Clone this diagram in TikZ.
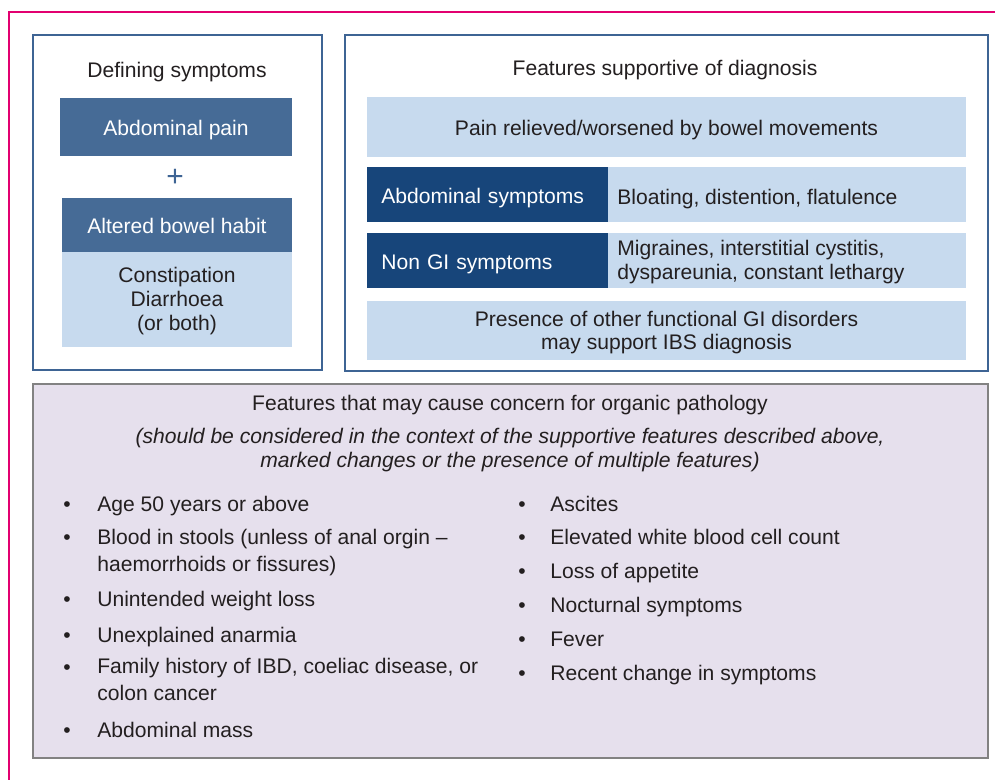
\documentclass[tikz,border=0pt]{standalone}
\usepackage{fontspec}
\setmainfont{Liberation Sans}
\usepackage{xcolor}
\usetikzlibrary{positioning}

\definecolor{inkdark}{RGB}{35,31,32}
\definecolor{frameblue}{RGB}{62,100,148}
\definecolor{midblue}{RGB}{70,107,150}
\definecolor{navy}{RGB}{23,69,122}
\definecolor{paleblue}{RGB}{199,218,238}
\definecolor{lavender}{RGB}{230,224,237}
\definecolor{framegray}{RGB}{130,130,130}
\definecolor{pagerule}{RGB}{226,0,112}

\begin{document}
\begin{tikzpicture}[
    x=0.02cm, y=-0.02cm,
    every node/.style={text=inkdark, font=\fontsize{12}{14.2}\selectfont},
    panel/.style={draw=frameblue, line width=1.6pt, fill=white},
    concern/.style={draw=framegray, line width=1.6pt, fill=lavender},
    lowtext/.style={text height=1em, text depth=0pt},
    midbox/.style={rectangle, fill=midblue, text=white, inner sep=0pt, lowtext},
    palebox/.style={rectangle, fill=paleblue, inner sep=0pt, lowtext},
    navybox/.style={rectangle, fill=navy, text=white, anchor=west, inner xsep=0.28cm,
        inner ysep=0pt, text width=4.26cm, align=left, minimum height=1.1cm, lowtext},
    plain/.style={inner sep=0pt, align=left, anchor=base west},
    heading/.style={inner sep=0pt, align=center, anchor=base},
    bullet/.style={inner sep=0pt, anchor=base},
    entry/.style={inner sep=0pt, align=left, anchor=base west, font=\fontsize{12}{15.4}\selectfont}
]
    \useasboundingbox (0,0) rectangle (995,780);

    % Page rule
    \draw[pagerule, line width=1.3pt] (9,780) -- (9,12) -- (995,12);

    % Panels
    \draw[panel] (33,35) rectangle (322,370);
    \draw[panel] (345,35) rectangle (988,371);
    \draw[concern] (33,384) rectangle (988,758);

    % Defining symptoms (multi-line texts sit on their last baseline)
    \node[heading] (deftitle) at (177,78) {Defining symptoms};
    \node[midbox, minimum width=4.64cm, minimum height=1.16cm] (pain) at (176,127) {Abdominal pain};
    \node[inner sep=0pt, text=frameblue, font=\fontsize{17}{20}\selectfont] (plus) at (175,178) {+};
    \node[midbox, minimum width=4.6cm, minimum height=1.08cm] (habit) at (177,225) {Altered bowel habit};
    \node[palebox, minimum width=4.6cm, minimum height=1.9cm] (types) at (177,299.5) {};
    \node[heading, font=\fontsize{12}{13.8}\selectfont] (typestext) at (177,331)
        {Constipation\\Diarrhoea\\(or both)};

    % Supportive features
    \node[heading] (suptitle) at (665,75.5) {Features supportive of diagnosis};
    \node[palebox, minimum width=11.98cm, minimum height=1.2cm] (relief) at (666.5,127)
        {Pain relieved/worsened by bowel movements};
    \node[palebox, minimum width=11.98cm, minimum height=1.1cm] (abdrow) at (666.5,194.5) {};
    \node[navybox] (abdhead) at (367,194.5) {Abdominal symptoms};
    \node[plain] (abdtext) at (617,204.5) {Bloating, distention, flatulence};
    \node[palebox, minimum width=11.98cm, minimum height=1.1cm] (girow) at (666.5,260.5) {};
    \node[navybox] (gihead) at (367,260.5) {Non GI symptoms};
    \node[plain] (gitext) at (617,280)
        {Migraines, interstitial cystitis,\\dyspareunia, constant lethargy};
    \node[palebox, minimum width=11.98cm, minimum height=1.18cm] (presence) at (666.5,330.5) {};
    \node[heading, font=\fontsize{12}{13.6}\selectfont] (presencetext) at (666.5,350)
        {Presence of other functional GI disorders\\may support IBS diagnosis};

    % Concern features
    \node[heading] (contitle) at (510,411) {Features that may cause concern for organic pathology};
    \node[heading, font=\fontsize{12}{14.2}\itshape] (connote) at (510,468)
        {(should be considered in the context of the supportive features described above,\\
         marked changes or the presence of multiple features)};

    \node[bullet] (bl1) at (67,512) {•};
    \node[entry] (age) at (97,512) {Age 50 years or above};
    \node[bullet] (bl2) at (67,545) {•};
    \node[entry] (blood) at (97,572) {Blood in stools (unless of anal orgin –\\haemorrhoids or fissures)};
    \node[bullet] (bl3) at (67,607) {•};
    \node[entry] (weight) at (97,607) {Unintended weight loss};
    \node[bullet] (bl4) at (67,643) {•};
    \node[entry] (anaemia) at (97,643) {Unexplained anarmia};
    \node[bullet] (bl5) at (67,675) {•};
    \node[entry] (family) at (97,701) {Family history of IBD, coeliac disease, or\\colon cancer};
    \node[bullet] (bl6) at (67,738) {•};
    \node[entry] (mass) at (97,738) {Abdominal mass};

    \node[bullet] (br1) at (522,512) {•};
    \node[entry] (ascites) at (550,512) {Ascites};
    \node[bullet] (br2) at (522,545) {•};
    \node[entry] (wbc) at (550,545) {Elevated white blood cell count};
    \node[bullet] (br3) at (522,579) {•};
    \node[entry] (appetite) at (550,579) {Loss of appetite};
    \node[bullet] (br4) at (522,613) {•};
    \node[entry] (nocturnal) at (550,613) {Nocturnal symptoms};
    \node[bullet] (br5) at (522,647) {•};
    \node[entry] (fever) at (550,647) {Fever};
    \node[bullet] (br6) at (522,681) {•};
    \node[entry] (recent) at (550,681) {Recent change in symptoms};

\end{tikzpicture}
\end{document}
